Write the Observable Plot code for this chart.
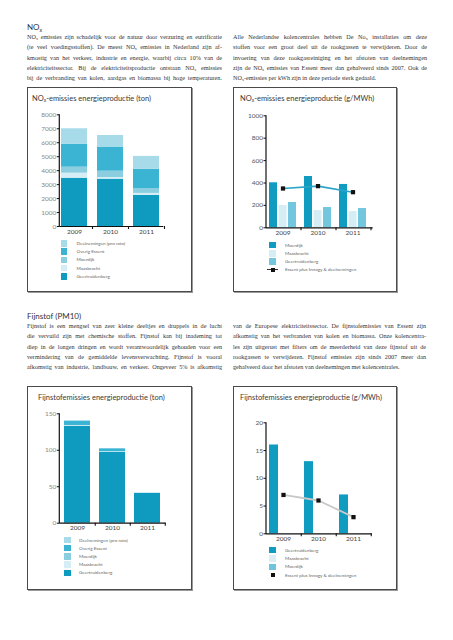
<!DOCTYPE html>
<html><head><meta charset="utf-8">
<script src="https://cdn.jsdelivr.net/npm/d3@7"></script>
<script src="https://cdn.jsdelivr.net/npm/@observablehq/plot@0.6"></script>
<style>
body{margin:0;background:#fff;}
#page{position:relative;width:453px;height:640px;overflow:hidden;font-family:"Liberation Serif",serif;color:#333;}
.h{position:absolute;font-family:Lato,"Open Sans",sans-serif;font-size:8px;font-weight:400;color:#333;white-space:nowrap;}
.ln{position:absolute;font-size:6.2px;height:8px;line-height:8px;white-space:nowrap;color:#333;}
.box{position:absolute;border:1px solid #4a4a4a;box-shadow:1px 1px 0 #9a9a9a;box-sizing:border-box;}
.title{position:absolute;font-family:Lato,sans-serif;font-size:7.5px;font-weight:400;color:#3a3a3a;white-space:nowrap;line-height:10px;}
.leg{position:absolute;font-family:Lato,sans-serif;font-size:4.6px;color:#666;white-space:nowrap;line-height:7px;height:7px;}
.sw{position:absolute;width:6.5px;height:6.5px;}
.plot{position:absolute;}
sub{font-size:65%;vertical-align:-0.3em;line-height:0;}
</style></head>
<body><div id="page"></div>
<script>
// ---------- data ----------
const years = ["2009", "2010", "2011"];

// NOx-emissies energieproductie (ton) - stacked
const noxTonGeertruidenberg = [3460, 3390, 2220];
const noxTonMaasbracht = [360, 120, 150];
const noxTonMoerdijk = [430, 450, 350];
const noxTonOverigEssent = [1630, 1730, 1370];
const noxTonDeelnemingen = [1120, 830, 930];
const noxTonTicks = [0, 1000, 2000, 3000, 4000, 5000, 6000, 7000, 8000];

// NOx-emissies energieproductie (g/MWh) - grouped + line
const noxMwhMoerdijk = [402, 458, 387];
const noxMwhMaasbracht = [199, 154, 145];
const noxMwhGeertruidenberg = [226, 181, 172];
const noxMwhEssent = [351, 372, 318];
const noxMwhTicks = [0, 200, 400, 600, 800, 1000];

// Fijnstofemissies energieproductie (ton) - stacked
const pmTonGeertruidenberg = [133, 97, 41];
const pmTonMaasbracht = [1, 1, 1];
const pmTonMoerdijk = [0, 0, 0];
const pmTonOverigEssent = [6, 4, 0];
const pmTonDeelnemingen = [0, 0, 0];
const pmTonTicks = [0, 50, 100, 150];

// Fijnstofemissies energieproductie (g/MWh) - grouped + line
const pmMwhGeertruidenberg = [16, 13, 7];
const pmMwhMaasbracht = [0, 0, 0];
const pmMwhMoerdijk = [0, 0, 0];
const pmMwhEssent = [7, 6, 3];
const pmMwhTicks = [0, 5, 10, 15, 20];

const stackSeries = ["Geertruidenberg", "Maasbracht", "Moerdijk", "Overig Essent", "Deelnemingen (pro rato)"];
const stackColors = ["#0e9bbf", "#d5eef5", "#8bcee0", "#3bb3d2", "#a8dbea"];
const essentLabel = "Essent plus Innogy & deelnemingen";

// ---------- text ----------
const noxLeft = [
 "NO<sub>x</sub> emissies zijn schadelijk voor de natuur door verzuring en eutrificatie",
 "(te veel voedingsstoffen). De meest NO<sub>x</sub> emissies in Nederland zijn af-",
 "kmostig van het verkeer, industrie en energie, waarbij circa 10% van de",
 "elektriciteitssector. Bij de elektriciteitsproductie ontstaan NO<sub>x</sub> emissies",
 "bij de verbranding van kolen, aardgas en biomassa bij hoge temperaturen."];
const noxRight = [
 "Alle Nederlandse kolencentrales hebben De No<sub>x</sub> installaties om deze",
 "stoffen voor een groot deel uit de rookgassen te verwijderen. Door de",
 "invoering van deze rookgasreiniging en het afstoten van deelnemingen",
 "zijn de NO<sub>x</sub> emissies van Essent meer dan gehalveerd sinds 2007. Ook de",
 "NO<sub>x</sub>-emissies per kWh zijn in deze periode sterk gedaald."];
const pmLeft = [
 "Fijnstof is een mengsel van zeer kleine deeltjes en druppels in de lucht",
 "die vervuild zijn met chemische stoffen. Fijnstof kan bij inademing tot",
 "diep in de longen dringen en wordt verantwoordelijk gehouden voor een",
 "vermindering van de gemiddelde levensverwachting. Fijnstof is vooral",
 "afkomstig van industrie, landbouw, en verkeer. Ongeveer 5% is afkomstig"];
const pmRight = [
 "van de Europese elektriciteitssector. De fijnstofemissies van Essent zijn",
 "afkomstig van het verbranden van kolen en biomassa. Onze kolencentra-",
 "les zijn uitgerust met filters om de meerderheid van deze fijnstof uit de",
 "rookgassen te verwijderen. Fijnstof emissies zijn sinds 2007 meer dan",
 "gehalveerd door het afstoten van deelnemingen met kolencentrales."];

const page = document.getElementById("page");
function el(cls, html, left, top, css) {
  const d = document.createElement("div");
  d.className = cls; d.innerHTML = html;
  d.style.left = left + "px"; d.style.top = top + "px";
  if (css) Object.assign(d.style, css);
  page.appendChild(d); return d;
}
function para(arr, left, width, firstCenter, spacing, justifyLast) {
  arr.forEach((t, i) => {
    const d = el("ln", t, left, firstCenter + i * spacing - 4.3);
    if (i < arr.length - 1 || justifyLast) {
      const w = d.getBoundingClientRect().width;
      const spaces = (d.textContent.match(/ /g) || []).length;
      if (spaces) d.style.wordSpacing = ((width - w) / spaces) + "px";
    }
  });
}

// headings and paragraphs
el("h", "NO<sub>x</sub>", 27, 22);
para(noxLeft, 27, 195, 37.5, 10.2, true);
para(noxRight, 233, 194, 37.5, 10.2, false);
el("h", "Fijnstof (PM10)", 27, 311);
para(pmLeft, 27, 195, 326.5, 10.2, true);
para(pmRight, 233, 193, 326.5, 10.2, false);

// boxes
el("box", "", 27, 87, {width: "165px", height: "205px"});
el("box", "", 233, 87, {width: "164px", height: "205px"});
el("box", "", 27, 386, {width: "165px", height: "204px"});
el("box", "", 233, 386, {width: "164px", height: "204px"});

// titles
el("title", "NO<sub>x</sub>-emissies energieproductie (ton)", 32, 94);
el("title", "NO<sub>x</sub>-emissies energieproductie (g/MWh)", 240, 94);
el("title", "Fijnstofemissies energieproductie (ton)", 38, 393);
el("title", "Fijnstofemissies energieproductie (g/MWh)", 240, 393);

// ---------- helpers ----------
function yAxisLine(top) {
  return (index, scales, values, dims) => {
    const l = document.createElementNS("http://www.w3.org/2000/svg", "line");
    l.setAttribute("x1", dims.marginLeft); l.setAttribute("x2", dims.marginLeft);
    l.setAttribute("y1", scales.y(0) + 0.6); l.setAttribute("y2", scales.y(top));
    l.setAttribute("stroke", "#111"); l.setAttribute("stroke-width", 1.2);
    return l;
  };
}
function place(svg, left, top) {
  svg.classList.add("plot");
  svg.style.left = left + "px"; svg.style.top = top + "px";
  page.appendChild(svg);
}
function longTable(seriesNames, arrays) {
  const rows = [];
  seriesNames.forEach((s, si) => years.forEach((y, yi) => rows.push({year: y, series: s, value: arrays[si][yi]})));
  return rows;
}
function baseMarks(ticks, step, labelColor) {
  return [
    Plot.axisY({ticks, tickFormat: d3.format("d"), tickSize: 2.5, tickPadding: 1, fontSize: 6.5, fill: labelColor, stroke: "#111", fontFamily: "Lato"}),
    Plot.axisX({tickSize: 0, tickPadding: 2.5, fontSize: 6.5, fill: "#444", fontFamily: "Lato"}),
    Plot.axisX({tickSize: 3, tickFormat: () => "", dx: step / 2, stroke: "#111", strokeWidth: 1.1}),
    Plot.ruleY([0], {stroke: "#111", strokeWidth: 1.2}),
    yAxisLine(ticks[ticks.length - 1])
  ];
}
function legend(items, sqLeft, txtLeft, firstCenter, spacing) {
  items.forEach((it, i) => {
    const cy = firstCenter + i * spacing;
    if (it.line) {
      el("sw", "", sqLeft - 2, cy - 0.5, {width: "11px", height: "1px", background: it.line});
      el("sw", "", sqLeft + 1.5, cy - 2, {width: "4px", height: "4px", background: "#111"});
    } else {
      el("sw", "", sqLeft, cy - 3.25, {background: it.color});
    }
    el("leg", it.label, txtLeft, cy - 3.5);
  });
}

// ---------- chart 1: NOx ton ----------
{
  const rows = longTable(stackSeries, [noxTonGeertruidenberg, noxTonMaasbracht, noxTonMoerdijk, noxTonOverigEssent, noxTonDeelnemingen]);
  const svg = Plot.plot({
    width: 164, height: 130, marginLeft: 32.3, marginRight: 27.7, marginTop: 6.3, marginBottom: 12,
    style: {background: "transparent", overflow: "visible"},
    x: {domain: years, range: [33.7, 131.7], paddingInner: 0.278, paddingOuter: 0, align: 0, label: null},
    y: {domain: [0, 8000], label: null},
    color: {domain: stackSeries, range: stackColors},
    marks: [
      Plot.barY(rows, {x: "year", y: "value", fill: "series", order: stackSeries}),
      ...baseMarks(noxTonTicks, 36, "#888")
    ]
  });
  place(svg, 27, 108);
  legend([
    {label: "Deelnemingen (pro rato)", color: stackColors[4]},
    {label: "Overig Essent", color: stackColors[3]},
    {label: "Moerdijk", color: stackColors[2]},
    {label: "Maasbracht", color: stackColors[1]},
    {label: "Geertruidenberg", color: stackColors[0]}
  ], 60.7, 76.5, 243.5, 8.2);
}

// ---------- chart 2: NOx g/MWh ----------
{
  const c2Series = ["Moerdijk", "Maasbracht", "Geertruidenberg"];
  const c2Colors = ["#0f9cc0", "#d5eef6", "#72c7df"];
  const arrays = [noxMwhMoerdijk, noxMwhMaasbracht, noxMwhGeertruidenberg];
  const insets = [[0, 19], [9.6, 9.4], [19, 0]];
  const line = years.map((y, i) => ({year: y, value: noxMwhEssent[i]}));
  const svg = Plot.plot({
    width: 163, height: 130, marginLeft: 33, marginRight: 23.3, marginTop: 7.3, marginBottom: 10.7,
    style: {background: "transparent", overflow: "visible"},
    x: {domain: years, range: [36, 136], paddingInner: 0.222, paddingOuter: 0, align: 0, label: null},
    y: {domain: [0, 1000], label: null},
    marks: [
      ...c2Series.map((s, si) => Plot.barY(years.map((y, i) => ({year: y, value: arrays[si][i]})),
        {x: "year", y: "value", fill: c2Colors[si], insetLeft: insets[si][0], insetRight: insets[si][1]})),
      ...baseMarks(noxMwhTicks, 36, "#555"),
      Plot.line(line, {x: "year", y: "value", stroke: "#2aa5c9", strokeWidth: 1.6}),
      Plot.dot(line, {x: "year", y: "value", symbol: "square", fill: "#111", r: 2.4})
    ]
  });
  place(svg, 233, 108);
  legend([
    {label: "Moerdijk", color: c2Colors[0]},
    {label: "Maasbracht", color: c2Colors[1]},
    {label: "Geertruidenberg", color: c2Colors[2]},
    {label: essentLabel, line: "#333"}
  ], 269, 285, 245, 8.3);
}

// ---------- chart 3: PM ton ----------
{
  const rows = longTable(stackSeries, [pmTonGeertruidenberg, pmTonMaasbracht, pmTonMoerdijk, pmTonOverigEssent, pmTonDeelnemingen]);
  const svg = Plot.plot({
    width: 164, height: 130, marginLeft: 32.3, marginRight: 25.3, marginTop: 7.3, marginBottom: 13.3,
    style: {background: "transparent", overflow: "visible"},
    x: {domain: years, range: [37, 134], paddingInner: 0.268, paddingOuter: 0, align: 0, label: null},
    y: {domain: [0, 150], label: null},
    color: {domain: stackSeries, range: stackColors},
    marks: [
      Plot.barY(rows, {x: "year", y: "value", fill: "series", order: stackSeries}),
      ...baseMarks(pmTonTicks, 35.5, "#888")
    ]
  });
  place(svg, 27, 406);
  legend([
    {label: "Deelnemingen (pro rato)", color: stackColors[4]},
    {label: "Overig Essent", color: stackColors[3]},
    {label: "Moerdijk", color: stackColors[2]},
    {label: "Maasbracht", color: stackColors[1]},
    {label: "Geertruidenberg", color: stackColors[0]}
  ], 64, 79, 540, 8.2);
}

// ---------- chart 4: PM g/MWh ----------
{
  const c4Series = ["Geertruidenberg", "Maasbracht", "Moerdijk"];
  const c4Colors = ["#0f9cc0", "#dcedf4", "#6fc5dd"];
  const arrays = [pmMwhGeertruidenberg, pmMwhMaasbracht, pmMwhMoerdijk];
  const insets = [[0, 19], [9.6, 9.4], [19, 0]];
  const line = years.map((y, i) => ({year: y, value: pmMwhEssent[i]}));
  const svg = Plot.plot({
    width: 163, height: 130, marginLeft: 33, marginRight: 24.3, marginTop: 10.3, marginBottom: 8.7,
    style: {background: "transparent", overflow: "visible"},
    x: {domain: years, range: [36, 135], paddingInner: 0.211, paddingOuter: 0, align: 0, label: null},
    y: {domain: [0, 20], label: null},
    marks: [
      ...c4Series.map((s, si) => Plot.barY(years.map((y, i) => ({year: y, value: arrays[si][i]})),
        {x: "year", y: "value", fill: c4Colors[si], insetLeft: insets[si][0], insetRight: insets[si][1]})),
      ...baseMarks(pmMwhTicks, 35.5, "#555"),
      Plot.line(line, {x: "year", y: "value", stroke: "#c8c8c8", strokeWidth: 1.8}),
      Plot.dot(line, {x: "year", y: "value", symbol: "square", fill: "#111", r: 2.4})
    ]
  });
  place(svg, 233, 412);
  legend([
    {label: "Geertruidenberg", color: c4Colors[0]},
    {label: "Maasbracht", color: c4Colors[1]},
    {label: "Moerdijk", color: c4Colors[2]},
    {label: essentLabel, line: "#ffffff"}
  ], 269, 285, 550, 8.4);
}
</script>
</body></html>
